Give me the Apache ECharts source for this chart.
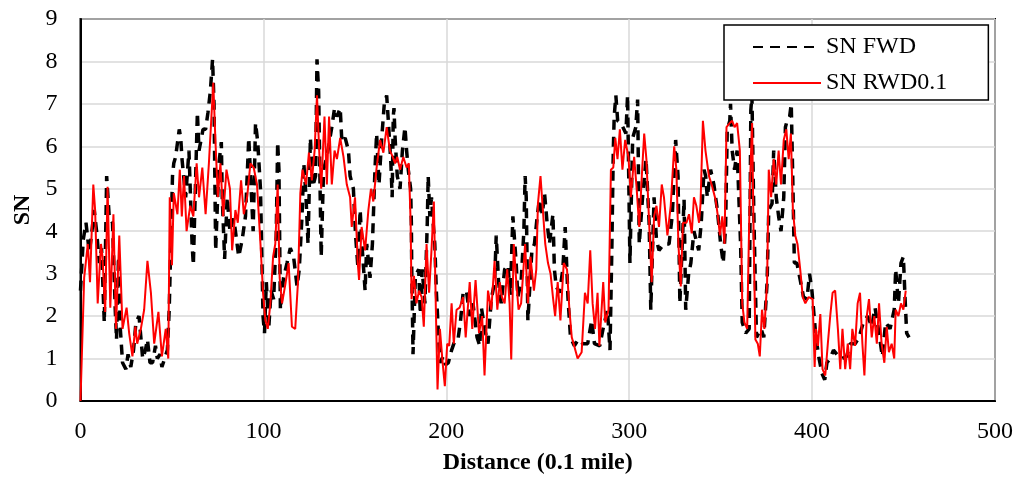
<!DOCTYPE html>
<html>
<head>
<meta charset="utf-8">
<script src="https://cdn.jsdelivr.net/npm/echarts@6/dist/echarts.min.js"></script>
<style>
html,body{margin:0;padding:0;background:#fff;}
#chart{width:1016px;height:480px;}
</style>
</head>
<body>
<div id="chart"></div>
<script>
// [distance (0.1 mile), SN]
const fwdData = [[0,2.6],[1.5,3.8],[3,4.2],[4.8,3.5],[6,3.9],[7.5,4.5],[8.8,4.0],[10.3,3.25],[11.5,3.6],[13,1.85],[14.3,5.3],[15.7,4.35],[17.5,4.2],[19,2.15],[19.7,1.45],[20.8,3.4],[21.7,1.75],[23,0.9],[24.8,0.75],[26,1.1],[27.5,0.8],[29,1.2],[30.3,1.85],[32,2.0],[34,1.0],[35.5,1.2],[36.6,1.45],[38,0.9],[39.4,0.9],[41,1.3],[42,1.0],[43.5,1.1],[44.5,0.8],[46,1.0],[47.5,1.2],[48.5,2.15],[50.3,5.3],[51,5.6],[52,5.75],[54,6.4],[54.8,6.2],[55.5,5.7],[57.5,4.8],[59.3,5.9],[61,3.7],[61.7,3.2],[63.9,6.8],[64.8,5.9],[67,6.4],[68.4,6.4],[69.7,6.8],[71,7.3],[72.2,8.05],[73,7.0],[73.9,3.55],[75.7,5.6],[77,6.1],[77.5,4.8],[78.8,3.35],[80.2,4.8],[81.7,4.0],[83.8,4.3],[86.5,3.4],[88.4,3.8],[90.2,4.35],[92,6.2],[93.3,5.0],[94.4,4.0],[95.7,6.55],[96.9,6.1],[98.4,5.0],[99.8,2.0],[100.6,1.6],[101.6,2.8],[102.9,1.7],[104.2,2.6],[105.6,2.4],[107,3.9],[107.8,6.1],[108.5,5.45],[109.3,2.15],[111,2.9],[112.9,3.25],[114.7,3.6],[116.5,3.4],[118.4,2.7],[119.6,3.1],[121.1,4.35],[122.1,5.6],[123.3,4.8],[124.4,3.7],[125.7,6.2],[127,5.05],[128.5,5.3],[129.3,8.05],[130.2,7.3],[131.1,4.7],[131.6,3.4],[132.9,5.45],[134.7,5.75],[137.4,6.45],[138.9,6.9],[140.2,6.7],[142,6.9],[142.9,6.1],[144.7,6.2],[146.5,5.9],[147.4,5.3],[149.2,5.0],[150.4,3.9],[151.6,3.2],[152.9,4.5],[154.1,3.55],[155.6,2.6],[156.5,3.7],[158.3,2.9],[159.6,3.7],[161,5.45],[161.9,6.3],[163.2,5.1],[164.7,6.2],[166.1,7.0],[167.4,7.2],[168.3,6.6],[169.7,5.6],[170.4,4.8],[171,6.7],[171.4,6.9],[172,6.2],[173.2,5.3],[174.7,5.0],[176,5.9],[177.4,6.45],[178.3,5.9],[179.2,5.45],[180.5,5.0],[180.9,4.2],[181.1,3.1],[181.6,1.75],[181.8,1.1],[183.1,2.95],[184.9,3.1],[185.8,2.05],[186.8,3.1],[188.3,2.3],[189.6,4.2],[190.1,5.3],[191,4.35],[191.9,4.8],[192.8,4.2],[193.7,3.7],[194.6,2.55],[196.5,0.9],[198.3,1.05],[199.5,0.85],[201.1,0.9],[202.9,1.2],[204.5,1.4],[206.4,1.45],[207.8,1.9],[209.2,2.55],[211,2.6],[212.8,2.0],[214.6,2.3],[216.8,1.5],[218.3,1.3],[219.2,2.2],[221,1.7],[222.8,1.35],[224.6,2.4],[226.4,2.8],[227.3,3.9],[228.6,2.8],[230,2.3],[231.9,3.1],[233.7,3.2],[235,2.5],[236.4,4.35],[237.3,3.8],[238.2,3.25],[239.1,2.45],[240.9,2.8],[242.4,4.0],[243.1,5.3],[243.7,4.8],[244.6,1.9],[246.8,3.55],[248.2,3.7],[249.7,4.35],[250.9,4.75],[252.5,4.4],[253.7,4.9],[255.1,4.2],[256.4,3.7],[258.3,4.4],[259.1,3.1],[260.1,2.7],[261.9,2.55],[263.7,3.1],[265,4.1],[266.5,2.45],[267.9,1.5],[270,1.3],[272.2,1.45],[274.6,1.35],[277.3,1.35],[279.5,1.9],[281,1.35],[283.9,1.3],[285.7,1.7],[288.1,2.15],[289.5,1.2],[290.5,3.55],[291.3,5.9],[291.8,6.7],[292.7,7.2],[293.7,6.6],[295.5,6.55],[298.2,6.3],[299.1,7.2],[300,4.5],[300.4,3.25],[301.9,6.2],[303.6,6.45],[304.6,7.1],[305.5,3.7],[307.3,4.8],[309.2,5.7],[310.9,4.2],[311.8,2.15],[313.6,4.8],[314.9,3.8],[316.3,3.55],[319,3.7],[321.8,3.7],[323.6,4.4],[325.4,6.15],[326.7,5.3],[327.7,2.3],[330,4.75],[330.9,2.15],[332.5,3.0],[333.7,3.25],[335.4,4.0],[338,3.55],[339.4,4.2],[340.9,5.45],[341.8,5.3],[342.7,4.8],[344.5,5.45],[346.3,5.1],[348.2,4.5],[350,3.7],[351.4,3.25],[352.7,4.1],[353.6,6.4],[355,6.6],[355.4,7.0],[356.3,5.9],[357.6,5.45],[359,5.9],[360.9,3.7],[361.8,1.85],[363.7,1.6],[365.6,1.7],[366.5,6.85],[367.1,7.2],[368.1,4.5],[369.6,1.5],[372.1,1.7],[373.6,1.5],[375.4,2.8],[376.3,4.5],[378.1,4.65],[379,5.9],[380.4,4.8],[381.7,4.35],[383,4.0],[384.5,4.8],[385.4,6.45],[386.3,6.6],[387.7,6.7],[388.6,7.0],[389.5,5.1],[390.3,3.25],[391.7,3.25],[393.5,2.85],[395.3,2.45],[397.2,2.4],[398.6,3.0],[399.9,2.6],[402.1,1.5],[403.6,1.05],[405.4,0.65],[406.9,0.5],[408.1,0.9],[409.9,1.0],[411.7,1.2],[414.4,1.05],[416.3,1.0],[418.9,1.05],[420.8,1.35],[423.5,1.35],[425.7,1.5],[428,1.85],[430.4,2.0],[432.6,1.75],[434.4,2.2],[436.2,1.7],[438.4,1.05],[440.2,1.85],[442.6,1.7],[444.9,2.15],[445.7,3.1],[447.2,2.3],[448.6,3.25],[449.9,3.4],[450.8,2.45],[451.7,1.6],[453,1.5]];

const rwdData = [[0,0],[2,2.9],[4,3.7],[5.2,2.8],[7,5.1],[8,4.5],[9.4,2.3],[11.2,3.7],[12,3.4],[13.5,2.1],[14.8,5.05],[16.3,2.2],[18,4.4],[19.4,1.7],[21.2,3.9],[23,1.7],[25.2,2.2],[26.6,1.6],[28.4,1.05],[30,1.75],[31,1.35],[33,1.7],[34.8,2.15],[36.6,3.3],[38.5,2.55],[40.3,1.35],[42.6,2.1],[44.5,1.05],[46.6,1.7],[48,1.0],[48.8,4.8],[50,3.2],[51,4.9],[53,4.4],[54.3,5.45],[55.4,4.35],[56.6,5.3],[58,4.0],[60,4.6],[61.7,4.35],[63.5,5.6],[64.8,4.8],[66.6,5.5],[68.4,4.4],[70.2,5.6],[72.6,7.5],[73.8,6.1],[75.1,4.8],[76.5,5.6],[78,4.35],[79.8,5.45],[81.7,5.0],[82.9,3.55],[84.7,4.5],[86,4.2],[87.8,5.2],[89.3,4.4],[91.1,4.8],[92.9,5.6],[94.7,5.5],[96.5,5.1],[98.4,3.7],[99.8,2.55],[101.1,1.9],[102.4,1.7],[103.8,2.3],[105.3,3.4],[106.5,3.7],[107.8,5.1],[108.9,2.9],[110.2,2.3],[112,2.75],[113.8,3.25],[115.6,1.75],[117.4,1.7],[118.9,2.8],[120.2,4.9],[121.4,5.45],[123.3,5.1],[124.9,5.85],[126.5,5.2],[128,5.9],[129.3,7.2],[130.5,5.9],[131.6,5.0],[133.4,6.7],[134.7,5.1],[135.9,6.7],[137.4,5.1],[138.9,5.9],[140.2,5.7],[142,6.2],[143.8,5.75],[145.6,5.1],[147.4,4.8],[148.3,4.1],[150.1,4.8],[151.6,3.25],[152.3,2.85],[153.7,4.1],[155.6,3.55],[157.4,4.5],[158.8,5.0],[160.1,4.7],[161.9,5.5],[163.8,6.15],[165.6,5.85],[167.4,6.45],[169.2,5.9],[170.7,5.75],[172,5.6],[173.2,5.75],[174.7,5.45],[176.5,5.75],[178.3,5.5],[179.5,5.6],[180.5,4.2],[181,2.4],[182.3,2.95],[183.7,2.3],[185.1,2.6],[186.5,2.45],[187.7,1.75],[189.2,3.7],[190.6,2.55],[191.9,3.55],[193.2,4.7],[194.3,2.15],[195.2,0.27],[196.5,1.7],[198,0.9],[199.2,0.35],[200.5,1.35],[201.6,1.3],[202.9,2.3],[204.1,1.35],[205.6,2.15],[207.3,2.2],[209.2,2.45],[210.6,1.5],[212.8,2.8],[214.2,1.7],[216,2.85],[217.9,1.6],[219.6,2.0],[220.9,0.6],[222.8,2.6],[224.6,2.15],[226.4,3.3],[227.9,2.15],[229.2,2.8],[230.4,2.45],[231.9,2.3],[233.3,3.1],[234.6,2.3],[235.5,0.98],[236.9,3.7],[238.2,2.85],[239.5,2.15],[240.9,2.3],[243.1,3.7],[244.6,2.3],[246,3.4],[247.9,2.6],[249.2,3.1],[250.1,4.65],[251.5,5.3],[252.8,4.5],[254.1,3.7],[255.6,3.25],[257,3.0],[258.3,2.45],[259.5,2.0],[260.9,2.8],[262.4,1.9],[264.2,3.25],[266,3.1],[267.3,2.15],[268.6,1.5],[269.9,1.3],[271.8,1.0],[274,1.15],[275.8,2.55],[277.3,2.3],[278.7,3.55],[280,2.3],[281.3,1.7],[282.7,2.55],[283.7,1.3],[285.8,2.8],[286.9,1.85],[288.7,2.15],[290,5.45],[291.3,5.5],[292.4,6.2],[293.6,5.7],[294.9,6.4],[296.3,5.45],[297.8,6.15],[299.6,5.75],[300.9,4.8],[302.7,5.75],[304,5.05],[305.5,4.1],[306.9,5.3],[308.2,6.3],[309.4,5.7],[310.9,4.2],[312.3,2.8],[313.6,4.35],[314.9,4.6],[316.3,4.1],[317.8,5.1],[319,4.8],[320.9,3.9],[322.7,4.6],[324.6,6.0],[325.8,5.45],[326.9,3.7],[328.2,2.7],[329.4,4.2],[331.3,4.2],[332.7,4.4],[334.2,3.95],[335.4,4.8],[336.7,4.6],[338.2,4.2],[339,4.65],[340.3,6.6],[341.7,5.9],[343.6,5.3],[345.4,5.05],[347.2,4.75],[348.5,4.35],[349.6,3.9],[350.9,4.35],[352.1,3.7],[353.2,6.45],[355,6.55],[356.3,6.6],[357.6,6.45],[359,6.55],[360.5,5.9],[361.8,2.3],[363,1.85],[364.5,1.7],[366,5.1],[367.2,6.55],[368.1,3.7],[369,1.45],[370.3,1.35],[371.4,1.05],[372.6,2.15],[373.9,1.7],[375.4,2.8],[376.3,5.45],[377.6,4.8],[379,5.7],[380.4,5.1],[381.7,5.9],[383,5.1],[384.5,6.15],[385.9,6.4],[387.2,5.7],[388.4,6.3],[389.5,4.5],[390.8,3.9],[392,3.7],[393.5,3.1],[394.9,2.45],[396.3,2.3],[398.1,2.45],[400.3,2.4],[401.4,0.8],[402.1,1.7],[403.2,1.3],[404.5,2.05],[405.7,0.75],[407.2,0.6],[408.6,1.35],[409.9,2.0],[411.2,2.55],[412.6,2.6],[414.1,1.7],[415.4,0.75],[416.6,1.7],[418.1,0.75],[419.5,1.35],[420.8,0.75],[422,1.7],[423.5,1.3],[424.9,2.3],[426.2,2.55],[427.5,1.35],[428.6,0.6],[429.9,2.0],[431.1,2.4],[432.6,1.5],[434,2.0],[435.4,1.35],[436.6,2.3],[438,1.35],[439.5,0.9],[440.8,1.75],[442,1.15],[443.5,1.35],[444.9,1.0],[445.7,2.15],[447.2,2.0],[448.6,2.3],[449.9,2.15],[451.2,2.6]];

const seriesNames = ['SN FWD', 'SN RWD0.1'];
const xAxisTitle = 'Distance (0.1 mile)';
const yAxisTitle = 'SN';

const FONT = '"Liberation Serif", "Times New Roman", serif';
const chart = echarts.init(document.getElementById('chart'), null, {renderer: 'canvas'});
chart.setOption({
  animation: false,
  backgroundColor: '#ffffff',
  textStyle: {fontFamily: FONT, color: '#000'},
  grid: {left: 80.5, right: 19, top: 19, bottom: 78.5, show: true, borderColor: '#000', borderWidth: 2, backgroundColor: 'transparent'},
  legend: {
    orient: 'vertical', left: 724, top: 25,
    backgroundColor: '#fff', borderColor: '#000', borderWidth: 1.5,
    padding: [10, 41, 5, 28], itemGap: 12,
    itemWidth: 68, itemHeight: 14,
    itemStyle: {opacity: 0, borderWidth: 0},
    lineStyle: {opacity: 1},
    textStyle: {fontFamily: FONT, fontSize: 24, color: '#000'},
    data: seriesNames
  },
  xAxis: {
    type: 'value', min: 0, max: 500, interval: 100,
    name: xAxisTitle, nameLocation: 'middle', nameGap: 50,
    nameTextStyle: {fontFamily: FONT, fontSize: 24, fontWeight: 'bold', color: '#000'},
    axisLine: {show: true, lineStyle: {color: '#000', width: 2}},
    axisTick: {show: false},
    axisLabel: {fontFamily: FONT, fontSize: 24, color: '#000', margin: 19},
    splitLine: {show: true, lineStyle: {color: '#d9d9d9', width: 1.5}}
  },
  yAxis: {
    type: 'value', min: 0, max: 9, interval: 1,
    name: yAxisTitle, nameLocation: 'middle', nameGap: 46, nameRotate: 90,
    nameTextStyle: {fontFamily: FONT, fontSize: 24, fontWeight: 'bold', color: '#000'},
    axisLine: {show: true, lineStyle: {color: '#000', width: 2}},
    axisTick: {show: false},
    axisLabel: {fontFamily: FONT, fontSize: 24, color: '#000', margin: 23},
    splitLine: {show: true, lineStyle: {color: '#d9d9d9', width: 1.5}}
  },
  series: [
    {
      name: seriesNames[0], type: 'line', data: fwdData,
      symbol: 'none', smooth: false,
      lineStyle: {color: '#000', width: 3.5, type: [10, 7]},
      itemStyle: {color: '#000'}
    },
    {
      name: seriesNames[1], type: 'line', data: rwdData,
      symbol: 'none', smooth: false,
      lineStyle: {color: '#ff0000', width: 2},
      itemStyle: {color: '#ff0000'}
    }
  ]
});
</script>
</body>
</html>
